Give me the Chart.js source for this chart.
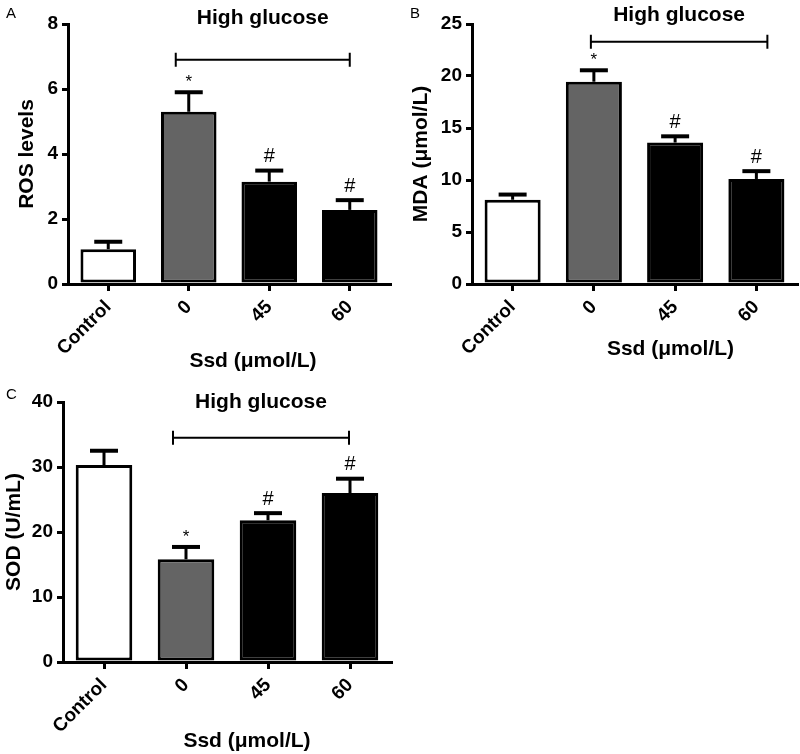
<!DOCTYPE html>
<html>
<head>
<meta charset="utf-8">
<script src="https://cdn.jsdelivr.net/npm/chart.js@4.4.0/dist/chart.umd.min.js"></script>
<style>
  body { margin: 0; background: #fff; }
  #wrap { position: relative; width: 800px; height: 754px; }
  canvas { position: absolute; }
</style>
</head>
<body>
<div id="wrap">
  <canvas id="panelA" width="400" height="375" style="left:0;top:0"></canvas>
  <canvas id="panelB" width="400" height="375" style="left:400px;top:0"></canvas>
  <canvas id="panelC" width="400" height="379" style="left:0;top:375px"></canvas>
</div>
<script>
// categories
const labels = ['Control', '0', '45', '60'];
const barColors = ['#ffffff', '#646464', '#000000', '#000000'];

// A - ROS levels
const rosMean = [1.07, 5.3, 3.15, 2.28];
const rosErr = [0.23, 0.6, 0.34, 0.3];
const rosMarks = ['', '*', '#', '#'];

// B - MDA (umol/L)
const mdaMean = [8.1, 19.45, 13.6, 10.1];
const mdaErr = [0.5, 1.1, 0.6, 0.75];
const mdaMarks = ['', '*', '#', '#'];

// C - SOD (U/mL)
const sodMean = [30.3, 15.8, 21.8, 26.0];
const sodErr = [2.2, 1.9, 1.1, 2.2];
const sodMarks = ['', '*', '#', '#'];

// y axes: max, step, and the level of the "High glucose" bracket
const yMax = [8, 25, 40];
const yStep = [2, 5, 10];
const bracketAt = [6.9, 23.3, 34.5];

const FONT = "'Liberation Sans', Arial, sans-serif";

// error bars, */# marks, bracket, header, x title, panel letter
const extras = {
  id: 'extras',
  afterDatasetsDraw(chart, args, o) {
    const ctx = chart.ctx;
    const xs = chart.scales.x, ys = chart.scales.y;
    const bars = chart.getDatasetMeta(0).data;
    const area = chart.chartArea;
    ctx.save();
    ctx.strokeStyle = '#000';
    ctx.fillStyle = '#000';
    ctx.textAlign = 'center';
    ctx.textBaseline = 'middle';

    bars.forEach((b, i) => {
      const top = ys.getPixelForValue(o.means[i] + o.errs[i]);
      ctx.lineWidth = 3;
      ctx.beginPath();
      ctx.moveTo(b.x, b.y);
      ctx.lineTo(b.x, top);
      ctx.stroke();
      ctx.lineWidth = 4;
      ctx.beginPath();
      ctx.moveTo(b.x - 14, top);
      ctx.lineTo(b.x + 14, top);
      ctx.stroke();
      if (o.marks[i] == '*') {
        ctx.font = '17px ' + FONT;
        ctx.fillText('*', b.x, top - 10);
      } else if (o.marks[i] == '#') {
        ctx.font = '20px ' + FONT;
        ctx.fillText('#', b.x, top - 14);
      }
    });

    // bracket over the high glucose groups
    const by = ys.getPixelForValue(o.bracket);
    const x1 = xs.getPixelForValue(1) + o.bx1, x2 = xs.getPixelForValue(3) + o.bx2;
    ctx.lineWidth = 2;
    ctx.beginPath();
    ctx.moveTo(x1, by); ctx.lineTo(x2, by);
    ctx.moveTo(x1, by - 7); ctx.lineTo(x1, by + 7);
    ctx.moveTo(x2, by - 7); ctx.lineTo(x2, by + 7);
    ctx.stroke();

    ctx.font = 'bold 21px ' + FONT;
    ctx.fillText('High glucose', (x1 + x2) / 2, area.top + o.headDy);

    ctx.fillText('Ssd (\u03bcmol/L)', (area.left + area.right) / 2 + o.titleDx, o.titleY);

    ctx.font = '15px ' + FONT;
    ctx.textAlign = 'left';
    ctx.fillText(o.letter, o.letterX, o.letterY);
    ctx.restore();
  }
};

function makePanel(id, p) {
  const ctx = document.getElementById(id);
  return new Chart(ctx, {
    type: 'bar',
    data: {
      labels: labels,
      datasets: [{
        data: p.means,
        backgroundColor: barColors,
        borderColor: '#000',
        borderWidth: 3,
        borderSkipped: false,
        categoryPercentage: 1,
        barPercentage: 0.69
      }]
    },
    options: {
      responsive: false,
      animation: false,
      layout: { padding: { top: p.top, right: p.right, left: 0, bottom: 0 } },
      plugins: {
        legend: { display: false },
        tooltip: { enabled: false },
        extras: p
      },
      scales: {
        x: {
          afterFit: (s) => { s.height = p.xH; },
          grid: { display: true, offset: false, drawOnChartArea: false, drawTicks: true,
                  tickLength: 7, color: '#000', lineWidth: 3 },
          border: { display: true, color: '#000', width: 3 },
          ticks: { color: '#000', font: { family: FONT, size: 19, weight: 'bold' },
                   maxRotation: 45, minRotation: 45, padding: 5 }
        },
        y: {
          min: 0,
          max: p.max,
          afterFit: (s) => { s.width = p.yW; },
          grid: { display: true, drawOnChartArea: false, drawTicks: true,
                  tickLength: 6, color: '#000', lineWidth: 3 },
          border: { display: true, color: '#000', width: 3 },
          ticks: { stepSize: p.step, color: '#000', padding: 4,
                   font: { family: FONT, size: 19, weight: 'bold' } },
          title: { display: true, text: p.yTitle, color: '#000',
                   font: { family: FONT, size: 21, weight: 'bold' },
                   padding: { top: p.yTitlePad, bottom: 0 } }
        }
      }
    },
    plugins: [extras]
  });
}

makePanel('panelA', {
  means: rosMean, errs: rosErr, marks: rosMarks, max: yMax[0], step: yStep[0],
  bracket: bracketAt[0], yTitle: 'ROS levels', letter: 'A',
  top: 24, right: 10, xH: 91, yW: 68, yTitlePad: 15, headDy: -6, titleDx: 24, titleY: 361,
  bx1: -13, bx2: 0, letterX: 6, letterY: 14
});

makePanel('panelB', {
  means: mdaMean, errs: mdaErr, marks: mdaMarks, max: yMax[1], step: yStep[1],
  bracket: bracketAt[1], yTitle: 'MDA (\u03bcmol/L)', letter: 'B',
  top: 24, right: 3, xH: 91, yW: 72, yTitlePad: 9, headDy: -9, titleDx: 36, titleY: 349,
  bx1: -3, bx2: 11, letterX: 10, letterY: 14
});

makePanel('panelC', {
  means: sodMean, errs: sodErr, marks: sodMarks, max: yMax[2], step: yStep[2],
  bracket: bracketAt[2], yTitle: 'SOD (U/mL)', letter: 'C',
  top: 27, right: 9, xH: 92, yW: 63, yTitlePad: 2, headDy: 0, titleDx: 20, titleY: 366,
  bx1: -13, bx2: -1, letterX: 6, letterY: 20
});
</script>
</body>
</html>
